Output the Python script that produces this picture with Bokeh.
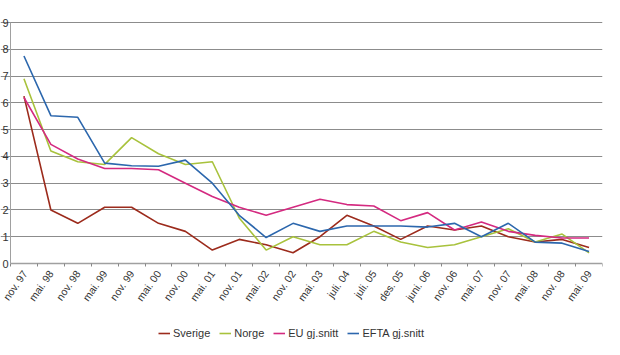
import math
from bokeh.plotting import figure
from bokeh.models import FixedTicker, Legend, LegendItem, Range1d
from bokeh.embed import file_html
from bokeh.resources import INLINE

categories = ["nov. 97", "mai. 98", "nov. 98", "mai. 99", "nov. 99", "mai. 00",
              "nov. 00", "mai. 01", "nov. 01", "mai. 02", "nov. 02", "mai. 03",
              "juli. 04", "juli. 05", "des. 05", "juni. 06", "nov. 06", "mai. 07",
              "nov. 07", "mai. 08", "nov. 08", "mai. 09"]

sverige = [6.25, 2.0, 1.5, 2.1, 2.1, 1.5, 1.2, 0.5, 0.9, 0.7, 0.4, 1.0,
           1.8, 1.4, 0.9, 1.4, 1.25, 1.4, 1.0, 0.8, 0.9, 0.6]
norge = [6.9, 4.2, 3.8, 3.7, 4.7, 4.1, 3.7, 3.8, 1.7, 0.5, 1.0, 0.7,
         0.7, 1.2, 0.8, 0.6, 0.7, 1.0, 1.3, 0.8, 1.1, 0.4]
eu = [6.2, 4.45, 3.9, 3.55, 3.55, 3.5, 3.0, 2.5, 2.1, 1.8, 2.1, 2.4,
      2.2, 2.15, 1.6, 1.9, 1.25, 1.55, 1.2, 1.05, 0.95, 0.95]
efta = [7.75, 5.52, 5.46, 3.75, 3.65, 3.63, 3.86, 3.0, 1.8, 0.97, 1.5, 1.2,
        1.4, 1.4, 1.4, 1.36, 1.5, 1.0, 1.5, 0.8, 0.76, 0.45]

series_names = ["Sverige", "Norge", "EU gj.snitt", "EFTA gj.snitt"]
series_values = [sverige, norge, eu, efta]
series_colors = ["#9c2b1c", "#a8c23c", "#d42a80", "#2c67ad"]

y_ticks = list(range(0, 10))
y_max = 9

FONT = "Liberation Sans"

n = len(categories)
xs = [i + 0.5 for i in range(n)]

# layout (pixels): canvas 604x339, top gridline at 22, zero line at 263, y axis at x=10
W, H, FRAME_TOP, GRID_TOP, ZERO_PX, RIGHT, AXIS_PX = 604, 339, 10, 22, 263, 2, 10
px_per_unit = (ZERO_PX - GRID_TOP) / y_max
y_start = -(H - ZERO_PX) / px_per_unit
y_end = y_max + (GRID_TOP - FRAME_TOP) / px_per_unit
px_per_cat = (W - RIGHT - AXIS_PX) / n
x_start = -AXIS_PX / px_per_cat

p = figure(width=W, height=H, output_backend="svg", toolbar_location=None,
           x_range=Range1d(x_start, n), y_range=Range1d(y_start, y_end),
           min_border_left=0, min_border_right=RIGHT, min_border_top=FRAME_TOP,
           min_border_bottom=0)
p.outline_line_color = None
p.background_fill_color = "white"

renderers = []
for name, vals, col in zip(series_names, series_values, series_colors):
    r = p.line(xs, vals, line_color=col, line_width=1.6)
    renderers.append((name, r))

# x axis, drawn at y = 0 inside the frame
p.xaxis.fixed_location = 0
p.xaxis.axis_label = None
p.xaxis.bounds = (0, n)
p.xaxis.ticker = FixedTicker(ticks=xs, minor_ticks=list(range(n + 1)))
p.xaxis.major_label_overrides = {x: c for x, c in zip(xs, categories)}
p.xaxis.major_label_orientation = 0.96
p.xaxis.major_tick_out = 0
p.xaxis.major_tick_in = 0
p.xaxis.minor_tick_out = 3
p.xaxis.minor_tick_in = 0
p.xaxis.minor_tick_line_color = "#888888"
p.xaxis.axis_line_color = "#a0a0a0"
p.xaxis.axis_line_width = 1.5
p.xaxis.major_label_text_font = FONT
p.xaxis.major_label_text_font_size = "10.5px"
p.xaxis.major_label_text_color = "#333333"
p.xaxis.major_label_standoff = 5

# y axis, drawn at x = 0 inside the frame
p.yaxis.fixed_location = 0
p.yaxis.axis_label = None
p.yaxis.bounds = (0, y_max)
p.yaxis.ticker = FixedTicker(ticks=y_ticks)
p.yaxis.major_tick_out = 0
p.yaxis.major_tick_in = 0
p.yaxis.minor_tick_line_color = None
p.yaxis.axis_line_color = "#a0a0a0"
p.yaxis.major_label_text_font = FONT
p.yaxis.major_label_text_font_size = "11px"
p.yaxis.major_label_text_color = "#333333"
p.yaxis.major_label_standoff = 2

p.xgrid.grid_line_color = None
p.ygrid.ticker = FixedTicker(ticks=list(range(1, 10)))
p.ygrid.bounds = (0, n)
p.ygrid.grid_line_color = "#8c8c8c"
p.ygrid.grid_line_width = 1

legend = Legend(items=[LegendItem(label=nm, renderers=[r]) for nm, r in renderers],
                orientation="horizontal", location=(158, 0),
                border_line_color=None, background_fill_alpha=0,
                label_text_font=FONT, label_text_font_size="11px",
                label_text_color="#333333", glyph_width=12, glyph_height=10,
                label_standoff=3, spacing=9, margin=0, padding=2)
p.add_layout(legend, "center")

open("out.html", "w").write(file_html(p, INLINE))
